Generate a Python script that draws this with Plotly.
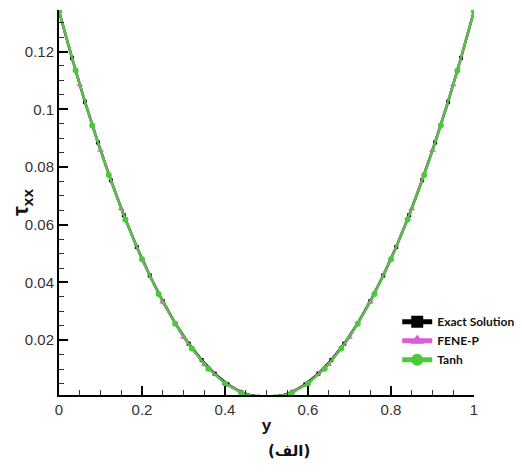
import plotly.graph_objects as go

# Exact solution (every 1/32)
exact_x = [i / 32 for i in range(33)]
exact_y = [0.1340, 0.1178, 0.1026, 0.0885, 0.0754, 0.0633, 0.0523, 0.0424, 0.0335,
           0.0256, 0.0188, 0.0131, 0.0084, 0.0047, 0.0021, 0.0005, 0.0000,
           0.0005, 0.0021, 0.0047, 0.0084, 0.0131, 0.0188, 0.0256, 0.0335,
           0.0424, 0.0523, 0.0633, 0.0754, 0.0885, 0.1026, 0.1178, 0.1340]

# FENE-P (every 0.05)
fene_x = [0.00, 0.05, 0.10, 0.15, 0.20, 0.25, 0.30, 0.35, 0.40, 0.45, 0.50,
          0.55, 0.60, 0.65, 0.70, 0.75, 0.80, 0.85, 0.90, 0.95, 1.00]
fene_y = [0.1340, 0.1085, 0.0858, 0.0655, 0.0480, 0.0332, 0.0210, 0.0116, 0.0050, 0.0011, 0.0000,
          0.0011, 0.0050, 0.0116, 0.0210, 0.0332, 0.0480, 0.0655, 0.0858, 0.1085, 0.1340]

# Tanh (every 0.04)
tanh_x = [0.00, 0.04, 0.08, 0.12, 0.16, 0.20, 0.24, 0.28, 0.32, 0.36, 0.40, 0.44, 0.48,
          0.52, 0.56, 0.60, 0.64, 0.68, 0.72, 0.76, 0.80, 0.84, 0.88, 0.92, 0.96, 1.00]
tanh_y = [0.1340, 0.1134, 0.0944, 0.0772, 0.0618, 0.0480, 0.0360, 0.0257, 0.0171, 0.0101, 0.0050, 0.0016, 0.0002,
          0.0002, 0.0016, 0.0050, 0.0101, 0.0171, 0.0257, 0.0360, 0.0480, 0.0618, 0.0772, 0.0944, 0.1134, 0.1340]

x_ticks = [0, 0.2, 0.4, 0.6, 0.8, 1]
x_labels = ["0", "0.2", "0.4", "0.6", "0.8", "1"]
y_ticks = [0.02, 0.04, 0.06, 0.08, 0.10, 0.12]
y_labels = ["0.02", "0.04", "0.06", "0.08", "0.1", "0.12"]

fig = go.Figure()
fig.add_trace(go.Scatter(x=exact_x, y=exact_y, mode="lines+markers", name="Exact Solution",
                         line=dict(color="#000000", width=2.5),
                         marker=dict(symbol="square", size=4, color="#000000")))
fig.add_trace(go.Scatter(x=fene_x, y=fene_y, mode="lines+markers", name="FENE-P",
                         line=dict(color="#de5bd6", width=2.5),
                         marker=dict(symbol="triangle-up", size=6, color="#de5bd6")))
fig.add_trace(go.Scatter(x=tanh_x, y=tanh_y, mode="lines+markers", name="Tanh",
                         line=dict(color="#4cc83c", width=2.2),
                         marker=dict(symbol="circle", size=6, color="#4cc83c")))

tickfont = dict(family="Liberation Sans, Arial", size=15, color="#333333")
fig.update_layout(
    width=514, height=464,
    margin=dict(l=51, r=48, t=2, b=77, autoexpand=False),
    paper_bgcolor="white", plot_bgcolor="white",
    showlegend=True,
    legend=dict(x=0.815, y=0.228, xanchor="left", yanchor="top",
                bgcolor="rgba(0,0,0,0)", itemsizing="constant",
                tracegroupgap=0,
                font=dict(family="Lato, Open Sans", size=12, color="#111111", weight="bold")),
    xaxis=dict(range=[0, 1], tickvals=x_ticks, ticktext=x_labels, automargin=False,
               showgrid=False, zeroline=False, showline=True, linecolor="black", linewidth=2,
               ticks="inside", ticklen=9, tickwidth=2, tickcolor="black",
               tickfont=tickfont,
               minor=dict(dtick=0.05, ticks="inside", ticklen=5, tickwidth=1, tickcolor="#333333"),
               title=dict(text="<b>y</b>", font=dict(family="Liberation Sans, Arial", size=17, color="#111111"),
                          standoff=2)),
    yaxis=dict(range=[0.001, 0.1344], tickvals=y_ticks, ticktext=y_labels, automargin=False,
               showgrid=False, zeroline=False, showline=True, linecolor="black", linewidth=2,
               ticks="inside", ticklen=9, tickwidth=2, tickcolor="black",
               tickfont=tickfont,
               minor=dict(tick0=0, dtick=0.005, ticks="inside", ticklen=5, tickwidth=1, tickcolor="#333333"),
               title=dict(text="<b>τ<sub>xx</sub></b>", font=dict(family="Liberation Sans, Arial", size=22, color="#111111"),
                          standoff=4)),
    annotations=[dict(text="<b>(الف)</b>", xref="paper", yref="paper", x=0.555, y=-0.145,
                      xanchor="center", yanchor="middle", showarrow=False,
                      font=dict(family="DejaVu Sans", size=15, color="#111111"))],
)

fig.write_html("out.html")
